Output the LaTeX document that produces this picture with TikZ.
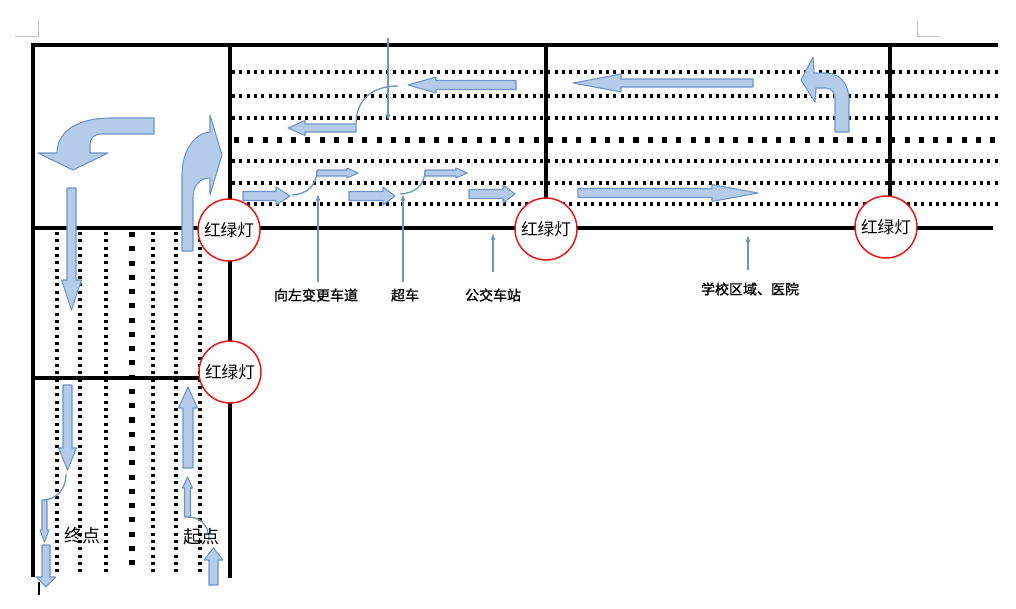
\documentclass[tikz,border=0pt]{standalone}
\usepackage{fontspec}
\newfontfamily\cjk{Noto Sans CJK SC}
\newfontfamily\cjkb{Noto Sans CJK SC}[FakeBold=1.2]
\usetikzlibrary{arrows.meta}
\definecolor{afill}{RGB}{180,204,233}
\definecolor{aline}{RGB}{110,148,198}
\definecolor{lred}{RGB}{235,20,20}
\definecolor{markgray}{RGB}{195,195,195}
% horizontal block arrow: tail x, y, head-base x, tip x, shaft half, head half
\newcommand\HArrow[6]{\filldraw[blk] (#1,{#2-#5}) -- (#3,{#2-#5}) -- (#3,{#2-#6}) -- (#4,#2) -- (#3,{#2+#6}) -- (#3,{#2+#5}) -- (#1,{#2+#5}) -- cycle;}
% vertical block arrow: x, tail y, head-base y, tip y, shaft half, head half
\newcommand\VArrow[6]{\filldraw[blk] ({#1-#5},#2) -- ({#1-#5},#3) -- ({#1-#6},#3) -- (#1,#4) -- ({#1+#6},#3) -- ({#1+#5},#3) -- ({#1+#5},#2) -- cycle;}
\begin{document}
\begin{tikzpicture}[x=0.75pt,y=-0.75pt,
  road/.style={line width=2.9pt},
  dots/.style={line width=2.3pt, dash pattern=on 2.3pt off 3.2pt},
  bigdots/.style={line width=3.8pt, dash pattern=on 3.8pt off 6.9pt},
  blk/.style={fill=afill, draw=aline, line width=0.8pt, line join=round},
  thin/.style={draw=aline, line width=1pt},
  ptr/.style={thin, -{Latex[length=5pt,width=4pt]}},
  light/.style={circle, draw=lred, line width=1.1pt, fill=white, minimum size=46.5pt, inner sep=0pt, font=\cjk\fontsize{12.5}{14}\selectfont},
  lbl/.style={font=\cjkb\fontsize{10.5}{12}\selectfont, inner sep=0pt},
  biglbl/.style={font=\cjk\fontsize{13.5}{15}\selectfont, inner sep=0pt},
  cmark/.style={draw=markgray, line width=0.75pt}]
\useasboundingbox (0,0) rectangle (1016,608);
\fill[white] (0,0) rectangle (1016,608);
% page corner marks
\draw[cmark] (38,20) -- (38,36) -- (15,36);
\draw[cmark] (917,20) -- (917,36) -- (939,36);
% dotted lane lines, top road
\foreach \yy in {72,96,118,161,183,204} \draw[dots] (232,\yy) -- (998,\yy);
\draw[bigdots] (234,140) -- (998,140);
% dotted lane lines, left road
\foreach \xx in {57,80,106,153,176,200} \draw[dots] (\xx,232) -- (\xx,572);
\draw[bigdots] (132,232) -- (132,572);
% road borders
\draw[road] (31,45) -- (998,45);
\draw[road] (33,44) -- (33,577);
\draw[road] (230,44) -- (230,578);
\draw[road] (546,44) -- (546,228);
\draw[road] (890,43) -- (890,228);
\draw[road] (33,228) -- (993,228);
\draw[road] (33,378) -- (230,378);
% cursor mark
\draw[black, line width=0.8pt] (39,582) -- (39,595);
% ---- top road, westbound
\HArrow{516}{85}{436}{408}{4.5}{8}
\HArrow{356}{128}{305}{288}{4}{7.5}
\coordinate (c1a) at (398,86);
\coordinate (c1b) at (356,124);
\draw[thin] (c1a) .. controls (372,86) and (356,100) .. (c1b);
\HArrow{753}{83}{621}{573}{4}{9}
% U-turn arrow
\filldraw[blk] (849,132) -- (849,100) .. controls (849,84) and (840,73) .. (826,73) -- (814,73) -- (813,57) -- (801,80) -- (815,102) -- (816,88) -- (826,88) .. controls (832,88) and (835,93) .. (835,100) -- (835,132) -- cycle;
% thin downward pointer
\coordinate (d0) at (388,38);
\coordinate (d1) at (388,121);
\draw[ptr] (d0) -- (d1);
% ---- top road, eastbound
\HArrow{243}{196}{276}{290}{4.5}{9}
\coordinate (c2a) at (292,195);
\coordinate (c2b) at (317,172);
\draw[thin] (c2a) .. controls (308,194) and (316,185) .. (c2b);
\HArrow{317}{173}{347}{358}{3}{5}
\HArrow{349}{196}{383}{395}{4.5}{9}
\coordinate (c3a) at (400,194);
\coordinate (c3b) at (425,172);
\draw[thin] (c3a) .. controls (416,193) and (424,185) .. (c3b);
\HArrow{425}{173}{456}{467}{3}{5}
\HArrow{469}{194}{503}{515}{4.5}{9}
\HArrow{578}{193}{712}{758}{4.5}{8.5}
% ---- top-left block
\filldraw[blk] (154,118) -- (110,118) .. controls (80,118) and (57,130) .. (57,153) -- (38,153) -- (73,170) -- (108,153) -- (90,153) -- (90,145) .. controls (90,138) and (94,134) .. (102,134) -- (154,134) -- cycle;
\filldraw[blk] (182,251) -- (182,175) .. controls (182,150) and (195,133) .. (210,132) -- (210,115) -- (222,155) -- (210,195) -- (210,178) .. controls (200,178) and (193,185) .. (193,198) -- (193,251) -- cycle;
% ---- left road, southbound
\VArrow{71.5}{188}{280}{310}{4.5}{10}
\VArrow{67.5}{385}{448}{470}{4.5}{9}
\coordinate (c4a) at (66,474);
\coordinate (c4b) at (44,500);
\draw[thin] (c4a) .. controls (66,490) and (56,499) .. (c4b);
\VArrow{44.5}{500}{530}{542}{2.5}{4.5}
\VArrow{46}{545}{577}{587}{4}{9.5}
% ---- left road, northbound
\VArrow{188}{468}{408}{387}{5}{9.5}
\VArrow{187.5}{517}{488}{477}{3}{5}
\coordinate (c5a) at (188,517);
\coordinate (c5b) at (209,540);
\draw[thin] (c5a) .. controls (201,517) and (209,526) .. (c5b);
\VArrow{213.5}{585}{560}{548}{4.5}{9.5}
% ---- traffic lights
\node[light] (L1) at (229,230) {红绿灯};
\node[light] (L2) at (230,372) {红绿灯};
\node[light] (L3) at (546,229) {红绿灯};
\node[light] (L4) at (886,227) {红绿灯};
% ---- labels and pointers
\node[lbl] (t1) at (316,295) {向左变更车道};
\node[lbl] (t2) at (405,295) {超车};
\node[lbl] (t3) at (493,295) {公交车站};
\node[lbl] (t4) at (750,289) {学校区域、医院};
\coordinate (p1) at (318,194);
\coordinate (p2) at (403,194);
\coordinate (p3) at (493,233);
\coordinate (p4) at (748,235);
\draw[ptr] (p1 |- 0,282) -- (p1);
\draw[ptr] (p2 |- 0,282) -- (p2);
\draw[ptr] (p3 |- 0,272) -- (p3);
\draw[ptr] (p4 |- 0,270) -- (p4);
\node[biglbl] (end) at (82,536) {终点};
\node[biglbl] (start) at (201,537) {起点};
\end{tikzpicture}
\end{document}
